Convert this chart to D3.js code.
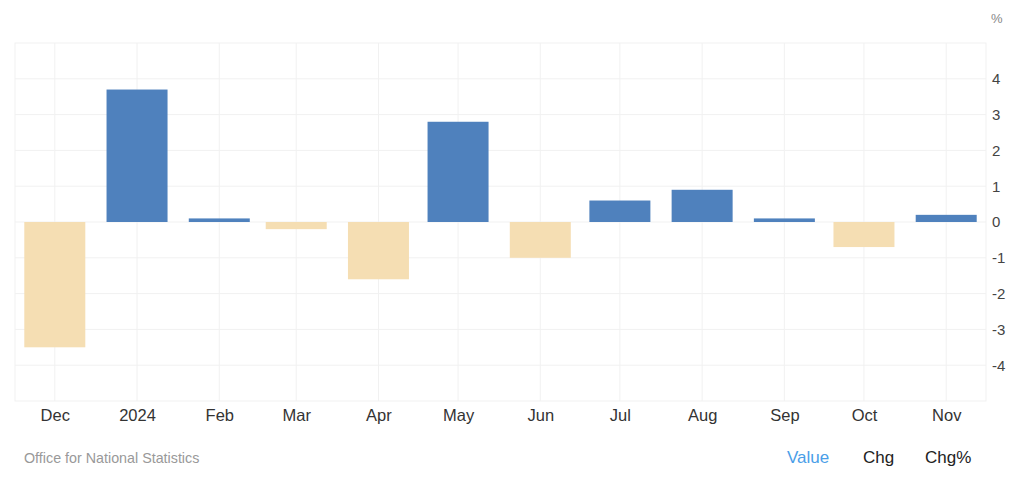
<!DOCTYPE html>
<html><head><meta charset="utf-8">
<script src="https://cdn.jsdelivr.net/npm/d3@7/dist/d3.min.js"></script>
<style>body{margin:0;background:#fff;font-family:"Liberation Sans",Arial,sans-serif;}</style>
</head><body><svg id="c" width="1024" height="482"></svg>
<script>
const months = ["2023-12","2024-01","2024-02","2024-03","2024-04","2024-05","2024-06","2024-07","2024-08","2024-09","2024-10","2024-11"];
const monthLabels = ["Dec","2024","Feb","Mar","Apr","May","Jun","Jul","Aug","Sep","Oct","Nov"];
const values = [-3.5,3.7,0.1,-0.2,-1.6,2.8,-1.0,0.6,0.9,0.1,-0.7,0.2];
const yTicks = [-4,-3,-2,-1,0,1,2,3,4];

const svg = d3.select("#c");
const parse = d3.timeParse("%Y-%m");
const dates = months.map(parse);
const L=15, R=986, T=43, B=401;
const x = d3.scaleTime().domain([new Date(2023,10,16), new Date(2024,10,16)]).range([L,R]);
const y = d3.scaleLinear().domain([-5,5]).range([B,T]);
const grid = "#f1f1f1";

svg.append("rect").attr("x",L).attr("y",T).attr("width",R-L).attr("height",B-T)
  .attr("fill","none").attr("stroke",grid);
svg.append("g").selectAll("line").data(yTicks).join("line")
  .attr("x1",L).attr("x2",R).attr("y1",d=>y(d)).attr("y2",d=>y(d)).attr("stroke",grid);
svg.append("g").selectAll("line").data(dates).join("line")
  .attr("x1",d=>x(d)).attr("x2",d=>x(d)).attr("y1",T).attr("y2",B).attr("stroke",grid);

const bw = 61;
svg.append("g").selectAll("rect").data(values).join("rect")
  .attr("x",(d,i)=>x(dates[i])-bw/2).attr("width",bw)
  .attr("y",d=>y(Math.max(0,d))).attr("height",d=>Math.abs(y(d)-y(0)))
  .attr("fill",d=>d>=0?"#4f81bd":"#f5deb3");

const ya = svg.append("g").attr("transform",`translate(${R},0)`)
  .call(d3.axisRight(y).tickValues(yTicks).tickSize(0).tickPadding(6).tickFormat(d=>String(d)));
ya.select(".domain").remove();
ya.selectAll("text").attr("font-size",15).attr("fill","#444").attr("font-family","Liberation Sans, Arial, sans-serif");
svg.append("text").attr("x",991).attr("y",23).attr("font-size",13).attr("fill","#888").text("%");

const xa = svg.append("g").attr("transform",`translate(0,${B})`)
  .call(d3.axisBottom(x).tickValues(dates).tickSize(0).tickPadding(8).tickFormat((d,i)=>monthLabels[i]));
xa.select(".domain").remove();
xa.selectAll("text").attr("font-size",16.5).attr("fill","#333").attr("font-family","Liberation Sans, Arial, sans-serif");

svg.append("text").attr("x",24).attr("y",463).attr("font-size",14.3).attr("fill","#999").text("Office for National Statistics");
const btns = [{t:"Value",x:787,c:"#4a9ee8"},{t:"Chg",x:863,c:"#222"},{t:"Chg%",x:925,c:"#222"}];
svg.append("g").selectAll("text").data(btns).join("text")
  .attr("x",d=>d.x).attr("y",463).attr("font-size",17).attr("fill",d=>d.c).text(d=>d.t);
</script></body></html>
